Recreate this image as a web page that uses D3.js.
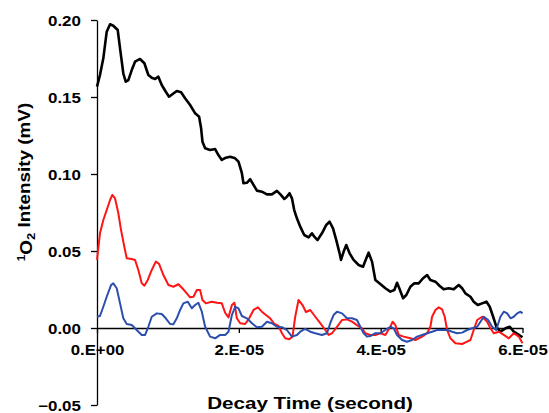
<!DOCTYPE html>
<html>
<head>
<meta charset="utf-8">
<script src="https://cdn.jsdelivr.net/npm/d3@7"></script>
<style>
  body { margin: 0; background: #fff; }
  svg { display: block; }
  text { font-family: "Liberation Sans", Arial, sans-serif; font-weight: bold; fill: #000; }
</style>
</head>
<body>
<div id="chart"></div>
<script>
// decay time in microseconds, intensity in mV
const blackTime = [0, 0.42, 0.89, 1.37, 1.84, 2.30, 2.92, 3.25, 3.71, 4.05, 4.42, 4.90, 5.36, 6.07, 6.68, 7.24, 7.72, 8.19, 8.65, 9.13, 9.70, 10.16, 10.63, 11.25, 11.86, 12.42, 13.13, 13.84, 14.40, 14.68, 14.87, 15.25, 15.95, 16.66, 17.12, 17.60, 18.17, 18.78, 19.48, 19.95, 20.43, 20.65, 21.13, 21.60, 22.07, 22.55, 23.25, 23.96, 24.66, 25.37, 25.93, 26.40, 26.78, 27.15, 27.49, 27.81, 28.19, 28.66, 29.22, 29.83, 30.31, 30.64, 31.10, 31.72, 32.33, 32.80, 33.28, 33.74, 34.21, 34.41, 34.77, 35.15, 35.62, 36.18, 36.89, 37.51, 37.98, 38.30, 38.78, 39.25, 39.95, 40.66, 41.36, 41.93, 42.31, 42.68, 43.16, 43.62, 44.19, 44.75, 45.36, 45.98, 46.55, 47.01, 47.72, 48.33, 48.89, 49.60, 50.30, 51.01, 51.49, 51.95, 52.66, 53.12, 53.69, 54.31, 54.92, 55.38, 55.86, 56.33, 56.89, 57.60, 58.21, 58.77, 59.48, 60.0];
const blackValue = [0.1567, 0.1643, 0.1751, 0.1924, 0.1972, 0.1963, 0.1935, 0.1816, 0.1654, 0.1599, 0.1610, 0.1675, 0.1729, 0.1747, 0.1719, 0.1643, 0.1625, 0.1617, 0.1632, 0.1578, 0.1534, 0.1502, 0.1518, 0.1539, 0.1531, 0.1492, 0.1448, 0.1394, 0.1372, 0.1297, 0.1210, 0.1167, 0.1156, 0.1162, 0.1123, 0.1091, 0.1106, 0.1112, 0.1102, 0.1080, 0.1005, 0.0940, 0.0943, 0.0966, 0.0929, 0.0892, 0.0885, 0.0868, 0.0868, 0.0890, 0.0864, 0.0838, 0.0853, 0.0875, 0.0842, 0.0766, 0.0712, 0.0658, 0.0604, 0.0589, 0.0615, 0.0593, 0.0571, 0.0615, 0.0669, 0.0690, 0.0647, 0.0571, 0.0485, 0.0442, 0.0495, 0.0539, 0.0485, 0.0442, 0.0409, 0.0398, 0.0453, 0.0489, 0.0431, 0.0312, 0.0286, 0.0258, 0.0236, 0.0247, 0.0294, 0.0251, 0.0193, 0.0214, 0.0268, 0.0290, 0.0290, 0.0323, 0.0344, 0.0312, 0.0301, 0.0273, 0.0251, 0.0258, 0.0251, 0.0279, 0.0258, 0.0225, 0.0203, 0.0171, 0.0149, 0.0160, 0.0171, 0.0138, 0.0073, 0.0005, -0.0024, -0.0002, 0.0008, -0.0024, -0.0045, -0.0060];

const redTime = [0, 0.42, 0.89, 1.37, 1.84, 2.16, 2.54, 3.01, 3.39, 3.85, 4.19, 4.90, 5.36, 5.83, 6.31, 6.68, 7.16, 7.72, 8.29, 8.75, 9.36, 10.07, 10.77, 11.48, 12.04, 12.66, 13.13, 13.60, 14.08, 14.54, 14.87, 15.35, 16.19, 16.90, 17.60, 18.07, 18.54, 19.02, 19.38, 19.72, 20.19, 20.89, 21.46, 22.07, 22.69, 23.25, 23.82, 24.42, 25.03, 25.60, 26.08, 26.54, 27.11, 27.57, 27.95, 28.42, 28.98, 29.46, 30.07, 30.78, 31.48, 32.19, 32.66, 33.14, 33.84, 34.55, 35.25, 35.96, 36.66, 37.37, 37.84, 38.54, 39.25, 39.95, 40.66, 41.36, 41.69, 42.07, 42.54, 43.24, 44.19, 44.90, 45.84, 46.55, 47.01, 47.25, 47.72, 48.19, 48.66, 49.03, 49.37, 49.84, 50.54, 51.49, 52.19, 52.66, 53.12, 53.61, 54.31, 55.02, 55.48, 55.95, 56.66, 57.36, 58.07, 58.77, 59.48, 60.0];
const redValue = [0.0442, 0.0615, 0.0701, 0.0766, 0.0831, 0.0864, 0.0842, 0.0745, 0.0636, 0.0528, 0.0453, 0.0448, 0.0442, 0.0377, 0.0290, 0.0275, 0.0312, 0.0377, 0.0431, 0.0416, 0.0344, 0.0279, 0.0268, 0.0284, 0.0258, 0.0225, 0.0199, 0.0203, 0.0247, 0.0247, 0.0182, 0.0160, 0.0171, 0.0164, 0.0160, 0.0099, 0.0069, 0.0149, 0.0164, 0.0063, 0.0031, 0.0026, 0.0063, 0.0117, 0.0134, 0.0106, 0.0084, 0.0063, 0.0026, 0.0013, -0.0034, -0.0067, -0.0073, -0.0056, 0.0073, 0.0182, 0.0149, 0.0104, 0.0117, 0.0073, 0.0031, -0.0013, -0.0045, -0.0034, 0.0008, 0.0052, 0.0056, 0.0041, 0.0019, -0.0002, -0.0034, -0.0045, -0.0045, -0.0034, -0.0045, 0.0008, 0.0041, 0.0019, -0.0045, -0.0056, -0.0067, -0.0078, -0.0056, -0.0034, 0.0008, 0.0073, 0.0117, 0.0134, 0.0121, 0.0073, -0.0013, -0.0067, -0.0099, -0.0104, -0.0089, -0.0078, -0.0013, 0.0052, 0.0073, 0.0041, -0.0002, -0.0034, -0.0024, -0.0045, -0.0067, -0.0034, -0.0056, -0.0099];

const blueTime = [0, 0.42, 0.89, 1.37, 1.98, 2.30, 2.78, 3.25, 3.71, 4.19, 4.90, 5.60, 6.31, 6.78, 7.24, 7.72, 8.43, 9.13, 9.70, 10.31, 10.77, 11.25, 11.72, 12.18, 12.80, 13.37, 13.84, 14.30, 14.78, 15.25, 15.95, 16.66, 17.36, 18.07, 18.54, 19.02, 19.48, 19.95, 20.43, 21.13, 21.84, 22.55, 23.25, 23.96, 24.66, 25.37, 26.08, 26.78, 27.49, 28.19, 28.66, 29.36, 30.07, 30.78, 31.72, 32.43, 32.89, 33.36, 33.84, 34.55, 35.25, 35.96, 36.66, 37.13, 37.60, 38.08, 38.54, 39.25, 39.95, 40.66, 41.36, 41.83, 42.31, 43.02, 43.72, 44.43, 45.13, 45.84, 46.55, 47.25, 47.96, 48.66, 49.37, 50.08, 50.78, 51.49, 52.19, 52.90, 53.61, 54.07, 54.54, 55.16, 55.72, 56.29, 56.89, 57.36, 57.84, 58.31, 58.77, 59.25, 59.72, 60.0];
const blueValue = [0.0073, 0.0078, 0.0138, 0.0203, 0.0279, 0.0290, 0.0258, 0.0160, 0.0063, 0.0026, 0.0019, -0.0013, -0.0045, -0.0045, 0.0008, 0.0073, 0.0095, 0.0091, 0.0063, 0.0026, 0.0024, 0.0063, 0.0117, 0.0160, 0.0171, 0.0128, 0.0149, 0.0164, 0.0106, 0.0008, -0.0056, -0.0067, -0.0045, -0.0045, -0.0024, 0.0084, 0.0138, 0.0128, 0.0078, 0.0063, 0.0031, 0.0005, 0.0008, 0.0041, 0.0031, 0.0008, 0.0005, -0.0013, -0.0056, -0.0045, -0.0024, -0.0006, -0.0024, -0.0034, -0.0045, -0.0034, 0.0031, 0.0084, 0.0106, 0.0095, 0.0063, 0.0063, 0.0052, 0.0008, -0.0034, -0.0056, -0.0052, -0.0034, -0.0034, -0.0013, 0.0008, -0.0002, -0.0045, -0.0078, -0.0089, -0.0078, -0.0056, -0.0045, -0.0034, -0.0024, -0.0013, -0.0013, -0.0013, -0.0024, -0.0034, -0.0030, -0.0013, -0.0002, 0.0008, 0.0041, 0.0073, 0.0052, 0.0008, -0.0013, 0.0073, 0.0106, 0.0095, 0.0063, 0.0073, 0.0095, 0.0106, 0.0095];

const xTicks = [0, 2e-5, 4e-5, 6e-5];
const xTickLabels = ["0.E+00", "2.E-05", "4.E-05", "6.E-05"];
const yTicks = [-0.05, 0, 0.05, 0.10, 0.15, 0.20];

const series = [
  { time: blackTime, value: blackValue, color: "#000000", width: 2.6 },
  { time: redTime, value: redValue, color: "#ff1515", width: 2 },
  { time: blueTime, value: blueValue, color: "#2c4fae", width: 2 }
];

const width = 549, height = 413;
const plotLeft = 97, plotRight = 522.5, plotTop = 20, plotBottom = 405;

const svg = d3.select('#chart')
  .append('svg')
  .attr('width', width)
  .attr('height', height);

const x = d3.scaleLinear().domain([0, 6e-5]).range([plotLeft, plotRight]);
const y = d3.scaleLinear().domain([-0.05, 0.20]).range([plotBottom, plotTop]);

// y axis
const yAxis = svg.append('g')
  .attr('transform', `translate(${plotLeft},0)`)
  .call(d3.axisLeft(y).tickValues(yTicks).tickFormat(d3.format('.2f')).tickSize(6).tickSizeOuter(0));
yAxis.select('.domain').attr('stroke', '#000').attr('stroke-width', 1.3);
yAxis.selectAll('.tick line').attr('stroke', '#000').attr('stroke-width', 1.3);
yAxis.selectAll('.tick text')
  .attr('x', -13.3)
  .attr('dy', '0.36em')
  .attr('transform', 'scale(1.21,1)')
  .style('font-size', '14px');

// x axis sits on zero
const xAxis = svg.append('g')
  .attr('transform', `translate(0,${y(0)})`)
  .call(d3.axisBottom(x).tickValues(xTicks).tickFormat((d, i) => xTickLabels[i]).tickSize(5).tickSizeOuter(0));
xAxis.select('.domain').attr('stroke', '#000').attr('stroke-width', 1.3);
xAxis.selectAll('.tick line').attr('stroke', '#000').attr('stroke-width', 1.3);
xAxis.selectAll('.tick text')
  .attr('y', 22)
  .attr('dy', '0.36em')
  .attr('transform', 'scale(1.2,1)')
  .style('font-size', '14px');

const line = d3.line()
  .x(d => x(d[0] * 1e-6))
  .y(d => y(d[1]));

series.forEach(s => {
  svg.append('path')
    .datum(s.time.map((t, i) => [t, s.value[i]]))
    .attr('fill', 'none')
    .attr('stroke', s.color)
    .attr('stroke-width', s.width)
    .attr('stroke-linejoin', 'round')
    .attr('d', line);
});

// axis titles
svg.append('text')
  .attr('transform', `translate(310,409) scale(1.25,1)`)
  .attr('text-anchor', 'middle')
  .style('font-size', '16.5px')
  .text('Decay Time (second)');

const yTitle = svg.append('text')
  .attr('transform', `translate(29,182) rotate(-90) scale(1.18,1)`)
  .attr('text-anchor', 'middle')
  .style('font-size', '16px');
yTitle.append('tspan').attr('dy', '-0.45em').style('font-size', '10px').text('1');
yTitle.append('tspan').attr('dy', '0.45em').text('O');
yTitle.append('tspan').attr('dy', '0.3em').style('font-size', '11px').text('2');
yTitle.append('tspan').attr('dy', '-0.3em').text(' Intensity (mV)');
</script>
</body>
</html>
